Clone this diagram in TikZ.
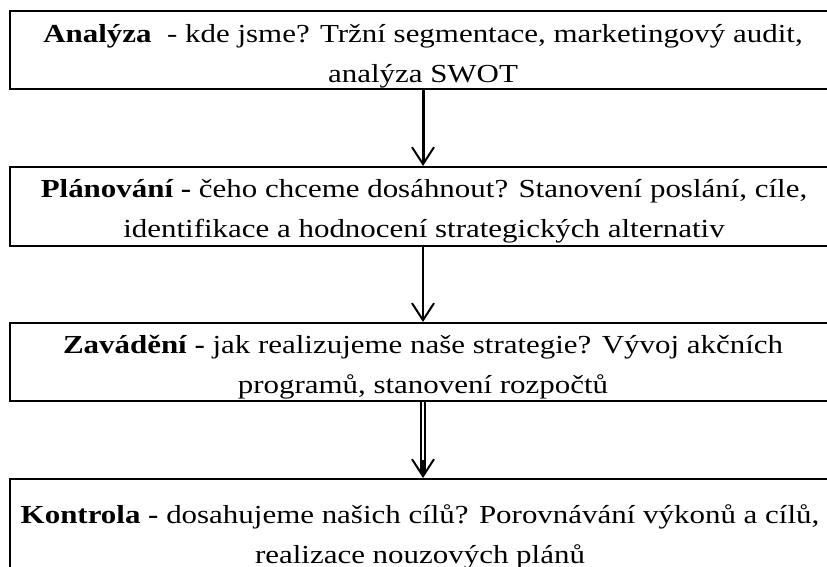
\documentclass[tikz,border=0pt]{standalone}
\usepackage{fontspec}
\setmainfont{Liberation Serif}[FakeStretch=1.19]
\usetikzlibrary{arrows.meta}
\tikzset{
  box/.style={draw, line width=2pt, rectangle, minimum width=826pt, inner sep=0pt},
  txt/.style={align=center, inner sep=0pt, font=\fontsize{26}{40}\selectfont},
  vtip/.style={-{Straight Barb[length=17pt, width=22pt, line width=2pt]}},
  arrA/.style={vtip, line width=3pt},
  arrB/.style={vtip, line width=1.8pt},
  dblshaft/.style={double, line width=2.3pt, double distance=1.4pt},
}
\begin{document}
\begin{tikzpicture}[x=1pt,y=-1pt]
\useasboundingbox (0,0) rectangle (827,566);
\fill[white] (0,0) rectangle (827,566);
% boxes
\node[box, minimum height=78pt] (b1) at (423,50) {};
\node[box, minimum height=79pt] (b2) at (423,206.5) {};
\node[box, minimum height=78pt] (b3) at (423,362) {};
\node[box, minimum height=110pt] (b4) at (423,534) {};
% texts
\node[txt] (t1) at (423,54) {\strut\textbf{Analýza}\ \ - kde jsme? Tržní segmentace, marketingový audit,\\\strut analýza SWOT};
\node[txt] (t2) at (424,209) {\strut\textbf{Plánování -} čeho chceme dosáhnout? Stanovení poslání, cíle,\\\strut identifikace a hodnocení strategických alternativ};
\node[txt] (t3) at (423,365) {\strut\textbf{Zavádění -} jak realizujeme naše strategie? Vývoj akčních\\\strut programů, stanovení rozpočtů};
\node[txt] (t4) at (420,535) {\strut\textbf{Kontrola -} dosahujeme našich cílů? Porovnávání výkonů a cílů,\\\strut realizace nouzových plánů};
% connectors
\draw[arrA] (b1.south) -- (b2.north);
\draw[arrB] (b2.south) -- (b3.north);
\draw[dblshaft] (b3.south) -- ([yshift=5pt]b4.north);
\draw[vtip, line width=2pt] ([yshift=18pt]b4.north) -- (b4.north);
\end{tikzpicture}
\end{document}
